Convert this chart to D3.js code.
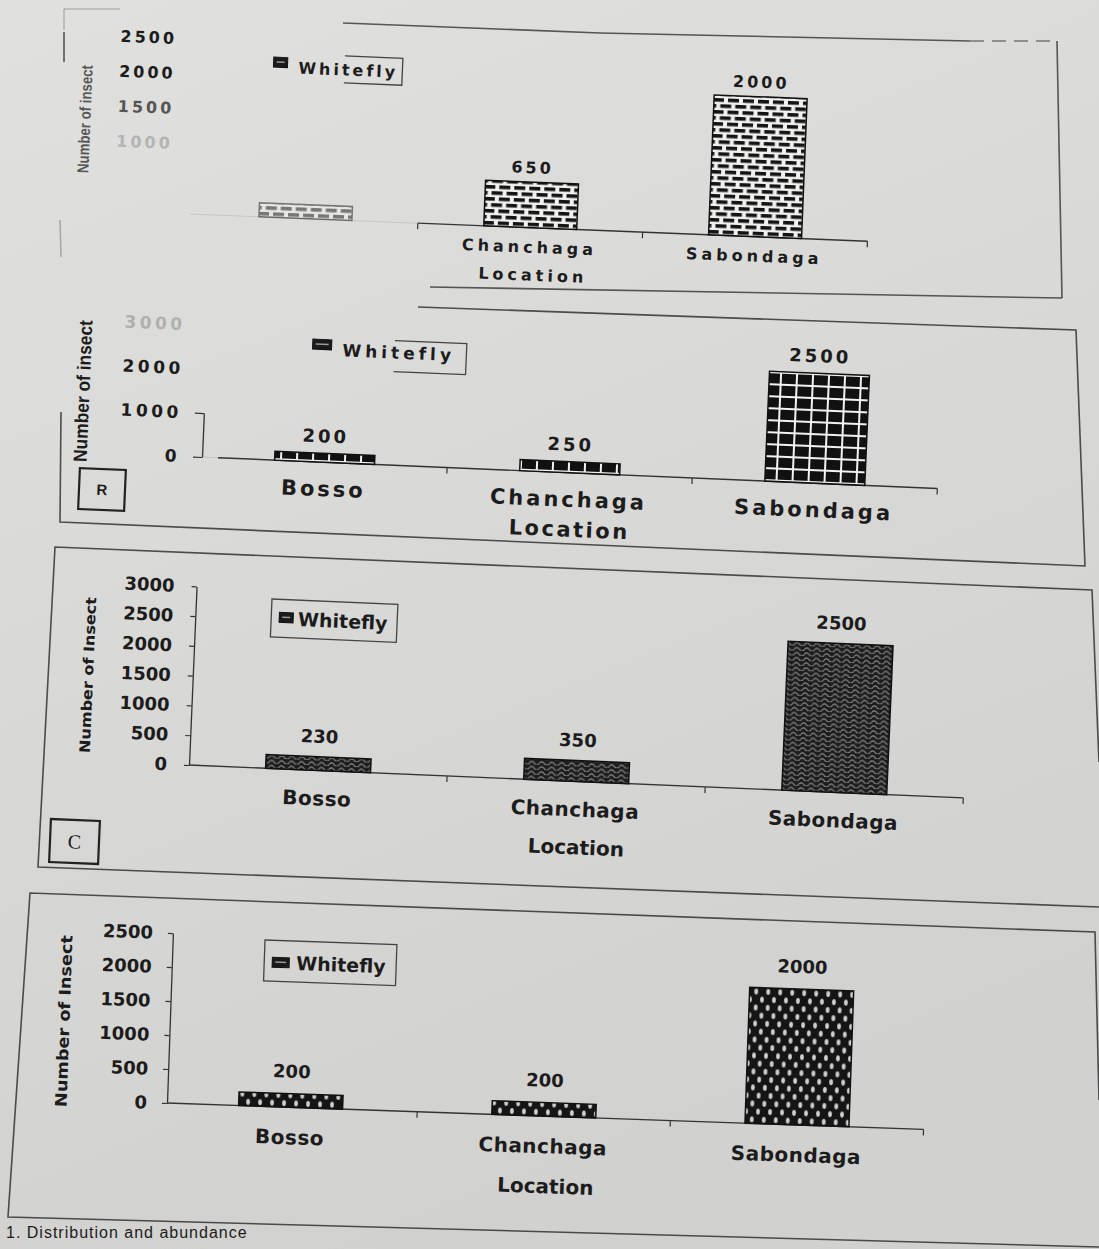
<!DOCTYPE html>
<html lang="en">
<head>
<meta charset="UTF-8">
<title>Whitefly counts by location</title>
<script src="https://d3js.org/d3.v7.min.js"></script>
<style>
  body { margin: 0; background: #d8d8d6; }
  svg text { font-family: "DejaVu Sans", sans-serif; font-weight: bold; }
</style>
</head>
<body>
<div id="page"></div>
<script>
// ---- data (panels top to bottom) ----
const locations = ["Bosso", "Chanchaga", "Sabondaga"];
const seriesName = "Whitefly";
const countsA = [200, 650, 2000];   // Bosso value faded out in print, estimated from bar
const countsB = [200, 250, 2500];
const countsC = [230, 350, 2500];
const countsD = [200, 200, 2000];
const ticksA = [1000, 1500, 2000, 2500];
const ticksB = [0, 1000, 2000, 3000];
const ticksC = [0, 500, 1000, 1500, 2000, 2500, 3000];
const ticksD = [0, 500, 1000, 1500, 2000, 2500];
const yTitles = ["Number of insect", "Number of insect", "Number of Insect", "Number of Insect"];
const xTitle = "Location";
const caption = "1. Distribution and abundance";

const W = 1099, H = 1249;
const ink = "#1c1c1c";

const svg = d3.select("#page").append("svg").attr("width", W).attr("height", H);
const defs = svg.append("defs");

// paper
const grad = defs.append("linearGradient").attr("id", "paper")
  .attr("x1", 0).attr("y1", 0).attr("x2", 0.35).attr("y2", 1);
grad.append("stop").attr("offset", "0%").attr("stop-color", "#e0e0de");
grad.append("stop").attr("offset", "100%").attr("stop-color", "#d1d1cf");
svg.append("rect").attr("width", W).attr("height", H).attr("fill", "url(#paper)");

// bar fill patterns
function pattern(id, w, h) {
  return defs.append("pattern").attr("id", id).attr("patternUnits", "userSpaceOnUse")
    .attr("width", w).attr("height", h);
}
let pt = pattern("brick", 15, 12);
pt.append("rect").attr("width", 15).attr("height", 12).attr("fill", "#f0f0ee");
[[0.5, 1], [8, 7], [-7, 7]].forEach(([bx, by]) =>
  pt.append("rect").attr("x", bx).attr("y", by).attr("width", 11).attr("height", 3.6).attr("fill", "#141414"));

pt = pattern("grid", 16, 12);
pt.append("rect").attr("width", 16).attr("height", 12).attr("fill", "#111");
pt.append("rect").attr("x", 14).attr("width", 2).attr("height", 12).attr("fill", "#f2f2f2");
pt.append("rect").attr("y", 10).attr("width", 16).attr("height", 2).attr("fill", "#f2f2f2");

pt = pattern("zigzag", 10, 5);
pt.append("rect").attr("width", 10).attr("height", 5).attr("fill", "#1e1e1e");
pt.append("path").attr("d", "M0,3.5 Q2.5,0.3 5,3.5 T10,3.5").attr("fill", "none")
  .attr("stroke", "#8e8e8e").attr("stroke-width", 1.2);

pt = pattern("dots", 12, 16);
pt.append("rect").attr("width", 12).attr("height", 16).attr("fill", "#151515");
[[3, 4], [9, 12]].forEach(([cx, cy]) =>
  pt.append("ellipse").attr("cx", cx).attr("cy", cy).attr("rx", 1.9).attr("ry", 3).attr("fill", "#cfcfcd"));

// ---- panel layout (screen positions measured on the photo) ----
const panels = [
  { counts: countsA, ticks: ticksA, ymax: 2500, ox: 190, oy: 214, rot: 2.3, k: 0.07,
    xRange: [3, 678], barW: 93, pattern: "brick", fadeBars: [0], baseFrom: 228,
    tickLen: 0, tickPad: 20, tickFont: 16, tickLs: 3, domainLen: 0,
    tickFill: d => d === 1000 ? "#b4b4b2" : d === 1500 ? "#555" : ink,
    valFont: 16, valLs: 3, valGap: 9, hideVal: [0],
    catFont: 16, catLs: 4, catY: 25, hideCat: [0],
    locX: 345, locY: 53, locFont: 16, locLs: 4,
    leg: [272, 53, 131, 27], legPartial: 73, swatch: [2, 4, 14, 10], legText: [27, 14], legFont: 16, legLs: 3,
    yTitle: [85, 119], yTitleFont: "bold 16px 'Liberation Sans'", yTitleLen: 108, yTitleOp: 0.7 },
  { counts: countsB, ticks: ticksB, ymax: 3000, ox: 202, oy: 457, rot: 2.45, k: 0.044,
    xRange: [0, 736], barW: 100, pattern: "grid", baseFrom: 16,
    tickLen: 9, tickPad: 13, tickFont: 17, tickLs: 3.5, domainLen: 1000,
    tickFill: d => d === 3000 ? "#b0b0ae" : ink,
    valFont: 18, valLs: 3, valGap: 11,
    catFont: 21, catLs: 3, catY: 34,
    locX: 370, locY: 64, locFont: 21, locLs: 2.5,
    leg: [311, 337, 156, 31], legPartial: 84, swatch: [2, 2, 19, 10], legText: [32, 12], legFont: 17, legLs: 4,
    yTitle: [83, 391], yTitleFont: "bold 19px 'Liberation Sans'", yTitleLen: 142, yTitleOp: 1,
    tag: { box: [79, 469, 46, 41], text: "R", font: "bold 15px 'Liberation Sans'" } },
  { counts: countsC, ticks: ticksC, ymax: 3000, ox: 189, oy: 765, rot: 2.43, k: 0.0596,
    xRange: [0, 775], barW: 105, pattern: "zigzag", baseFrom: 0,
    tickLen: 5, tickPad: 17, tickFont: 18, tickLs: 0, domainLen: 3000,
    tickFill: () => ink,
    valFont: 18, valLs: 0, valGap: 14,
    catFont: 20, catLs: 0.5, catY: 35,
    locX: 390, locY: 73, locFont: 20, locLs: 0,
    leg: [272, 599, 126, 38], swatch: [8, 13, 14, 10], legText: [27, 19], legFont: 19, legLs: 0,
    yTitle: [88, 675], yTitleFont: "bold 14.5px 'DejaVu Sans'", yTitleLen: 156, yTitleOp: 1,
    tag: { box: [50, 820, 49, 43], text: "C", font: "20px 'Liberation Serif'" } },
  { counts: countsD, ticks: ticksD, ymax: 2500, ox: 167, oy: 1103, rot: 2.0, k: 0.068,
    xRange: [-3, 757], barW: 104, pattern: "dots", baseFrom: 0,
    tickLen: 5, tickPad: 15, tickFont: 18, tickLs: 0, domainLen: 2500,
    tickFill: () => ink,
    valFont: 18, valLs: 0, valGap: 16,
    catFont: 20, catLs: 0.5, catY: 37,
    locX: 381, locY: 77, locFont: 20, locLs: 0,
    leg: [265, 940, 132, 41], swatch: [8, 17, 17, 10], legText: [32, 22], legFont: 19, legLs: 0,
    yTitle: [64, 1021], yTitleFont: "bold 16px 'DejaVu Sans'", yTitleLen: 172, yTitleOp: 1 }
];

function drawPanel(p, idx) {
  const rad = p.rot * Math.PI / 180, cs = Math.cos(rad), sn = Math.sin(rad);
  // screen point -> panel coordinates
  const loc = (sx, sy) => [(sx - p.ox) * cs + (sy - p.oy) * sn, -(sx - p.ox) * sn + (sy - p.oy) * cs];
  const g = svg.append("g").attr("transform", `translate(${p.ox},${p.oy}) rotate(${p.rot})`);

  const step = (p.xRange[1] - p.xRange[0]) / locations.length;
  const pad = 1 - p.barW / step;
  const x = d3.scaleBand().domain(locations).range(p.xRange).paddingInner(pad).paddingOuter(pad / 2);
  const y = d3.scaleLinear().domain([0, p.ymax]).range([0, -p.ymax * p.k]);

  // y axis
  const ay = g.append("g").call(d3.axisLeft(y).tickValues(p.ticks).tickSize(p.tickLen)
    .tickSizeOuter(0).tickPadding(p.tickPad).tickFormat(d3.format("d")));
  ay.attr("font-family", null).attr("font-size", null);
  ay.selectAll(".tick line").attr("stroke", "#333").attr("stroke-width", 1.2)
    .attr("stroke-opacity", d => d <= p.domainLen ? 1 : 0);
  ay.select(".domain").attr("stroke", "#333").attr("stroke-width", 1.3)
    .attr("stroke-dasharray", p.domainLen ? `${-y(p.domainLen)} 9999` : "0 9999");
  ay.selectAll(".tick text").style("font-size", p.tickFont + "px")
    .attr("letter-spacing", p.tickLs).attr("fill", d => p.tickFill(d));

  // x axis line with category separators
  g.append("line").attr("x1", p.baseFrom).attr("x2", p.xRange[1]).attr("y1", 0).attr("y2", 0)
    .attr("stroke", "#333").attr("stroke-width", 1.4);
  if (p.baseFrom > 0) {
    g.append("line").attr("x1", 0).attr("x2", p.baseFrom).attr("y1", 0).attr("y2", 0)
      .attr("stroke", "#333").attr("stroke-opacity", 0.12);
  }
  g.selectAll("line.sep").data(d3.range(1, locations.length + 1)).join("line")
    .attr("class", "sep")
    .attr("x1", i => p.xRange[0] + i * step).attr("x2", i => p.xRange[0] + i * step)
    .attr("y1", 0).attr("y2", 6).attr("stroke", "#333").attr("stroke-width", 1.2);

  const rows = locations.map((l, i) => ({ loc: l, v: p.counts[i], i }));

  // bars
  g.selectAll("rect.bar").data(rows).join("rect").attr("class", "bar")
    .attr("x", d => x(d.loc)).attr("y", d => y(d.v))
    .attr("width", x.bandwidth()).attr("height", d => -y(d.v))
    .attr("fill", `url(#${p.pattern})`).attr("stroke", "#111").attr("stroke-width", 1.5)
    .attr("opacity", d => (p.fadeBars || []).includes(d.i) ? 0.5 : 1);

  // value labels
  g.selectAll("text.val").data(rows.filter(d => !(p.hideVal || []).includes(d.i))).join("text")
    .attr("class", "val")
    .attr("x", d => x(d.loc) + x.bandwidth() / 2).attr("y", d => y(d.v) - p.valGap)
    .attr("text-anchor", "middle").attr("fill", ink)
    .style("font-size", p.valFont + "px").attr("letter-spacing", p.valLs)
    .text(d => d.v);

  // category labels
  g.selectAll("text.cat").data(rows.filter(d => !(p.hideCat || []).includes(d.i))).join("text")
    .attr("class", "cat")
    .attr("x", d => x(d.loc) + x.bandwidth() / 2).attr("y", p.catY)
    .attr("text-anchor", "middle").attr("fill", ink)
    .style("font-size", p.catFont + "px").attr("letter-spacing", p.catLs)
    .text(d => d.loc);

  g.append("text").attr("x", p.locX).attr("y", p.locY).attr("text-anchor", "middle")
    .attr("fill", ink).style("font-size", p.locFont + "px").attr("letter-spacing", p.locLs)
    .text(xTitle);

  // legend
  const [lx, ly] = loc(p.leg[0], p.leg[1]);
  const lg = g.append("g").attr("transform", `translate(${lx},${ly})`);
  const lw = p.leg[2], lh = p.leg[3];
  if (p.legPartial) {
    lg.append("path").attr("d", `M${p.legPartial},0H${lw}V${lh}H${p.legPartial}`)
      .attr("fill", "none").attr("stroke", "#444").attr("stroke-width", 1.3);
  } else {
    lg.append("rect").attr("width", lw).attr("height", lh)
      .attr("fill", "none").attr("stroke", "#444").attr("stroke-width", 1.3);
  }
  lg.append("rect").attr("x", p.swatch[0]).attr("y", p.swatch[1])
    .attr("width", p.swatch[2]).attr("height", p.swatch[3])
    .attr("fill", "#1a1a1a").attr("stroke", "#111");
  lg.append("rect").attr("x", p.swatch[0] + 3).attr("y", p.swatch[1] + p.swatch[3] / 2 - 1)
    .attr("width", p.swatch[2] - 6).attr("height", 1.5).attr("fill", "#9a9a9a");
  lg.append("text").attr("x", p.legText[0]).attr("y", p.legText[1])
    .attr("dominant-baseline", "central").attr("fill", ink)
    .style("font-size", p.legFont + "px").attr("letter-spacing", p.legLs)
    .text(seriesName);

  // y title
  const [tx, ty] = loc(p.yTitle[0], p.yTitle[1]);
  g.append("text").attr("transform", `translate(${tx},${ty}) rotate(-90)`)
    .attr("text-anchor", "middle").attr("dominant-baseline", "central")
    .style("font", p.yTitleFont).attr("fill", ink).attr("opacity", p.yTitleOp)
    .attr("textLength", p.yTitleLen).attr("lengthAdjust", "spacingAndGlyphs")
    .text(yTitles[idx]);

  // panel tag box
  if (p.tag) {
    const [bx, by, bw, bh] = p.tag.box;
    const [cx, cy] = loc(bx + bw / 2, by + bh / 2);
    const tg = g.append("g").attr("transform", `translate(${cx},${cy})`);
    tg.append("rect").attr("x", -bw / 2).attr("y", -bh / 2).attr("width", bw).attr("height", bh)
      .attr("fill", "none").attr("stroke", "#222").attr("stroke-width", 2.2);
    tg.append("text").attr("text-anchor", "middle").attr("dominant-baseline", "central")
      .style("font", p.tag.font).attr("fill", ink).text(p.tag.text);
  }
}

// panel frames, as they sit on the photographed page
const frames = [
  { d: "M64,9L120,9", op: 0.25 },
  { d: "M64,9L64,30", op: 0.25 },
  { d: "M64,32L64,62", op: 0.8 },
  { d: "M60,220L61,257", op: 0.3 },
  { d: "M343,23L600,33L970,41", op: 0.8 },
  { d: "M970,41L1057,41", op: 0.6, dash: "14 8" },
  { d: "M1057,41L1062,298", op: 0.8 },
  { d: "M430,287L1062,298", op: 0.8 },
  { d: "M418,307L1076,330L1085,566L60,522L61,412", op: 0.85 },
  { d: "M1099,762L1092,590L55,547L38,867L1099,907", op: 0.85 },
  { d: "M1099,1100L1095,932L30,893L8,1217L1099,1247", op: 0.85 }
];
svg.append("g").selectAll("path").data(frames).join("path")
  .attr("d", d => d.d).attr("fill", "none").attr("stroke", "#333")
  .attr("stroke-width", 1.6).attr("stroke-opacity", d => d.op)
  .attr("stroke-dasharray", d => d.dash || null);

panels.forEach(drawPanel);

svg.append("text").attr("x", 6).attr("y", 1238).attr("fill", ink)
  .style("font", "16px 'Liberation Sans'").attr("letter-spacing", 1)
  .text(caption);
</script>
</body>
</html>
